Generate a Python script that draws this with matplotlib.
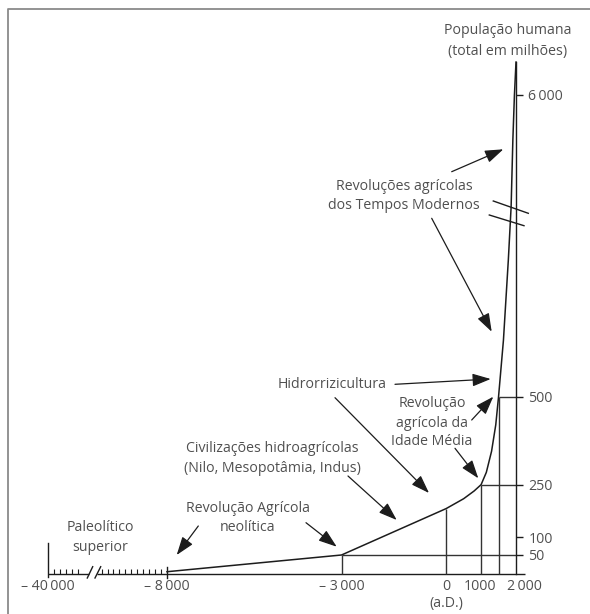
import numpy as np
import matplotlib
matplotlib.use("Agg")
import matplotlib.pyplot as plt
import matplotlib.transforms as mtransforms

# ---------------- data ----------------
years = [-8000, -3000, 0, 500, 800, 1000, 1150, 1300, 1420, 1500,
         1640, 1780, 1860, 1910, 1955, 2000]
population = [6, 50, 182, 210, 232, 250, 285, 345, 420, 500,
              1530, 2990, 3960, 5180, 6000, 6600]

guide_years = [-3000, 0, 1000, 1500]
guide_pops = [50, 182, 250, 500]
hguide_years = [-3000, 1000, 1500]
hguide_pops = [50, 250, 500]

x_tick_years = [-40000, -8000, -3000, 0, 1000, 2000]
x_tick_labels = ["– 40\u2009000", "– 8\u2009000", "– 3\u2009000", "0", "1000", "2\u2009000"]
y_ticks = [50, 100, 250, 500, 6000]
y_tick_labels = ["50", "100", "250", "500", "6\u2009000"]
minor_years = [-38400, -36800, -35200, -33600, -32000,
               -25600, -24000, -22400, -20800, -19200, -17600,
               -16000, -14400, -12800, -11200, -9600]

# ---------------- layout ----------------
W, H = 590, 614
FS = 10.2
TXT = "#505050"
LN = "#1c1c1c"
FAM = ["Open Sans", "DejaVu Sans"]

# piecewise scales (data -> pixel)
x_data_anchor = np.array([-52907.0, -40000.0, -8000.0, 2000.0, 4120.0])
x_px_anchor = np.array([0.0, 48.0, 167.0, 516.0, 590.0])
y_data_anchor = np.array([-105.3, 0.0, 50.0, 500.0, 6000.0, 7731.8])
y_px_anchor = np.array([0.0, 40.0, 59.0, 217.3, 519.0, 614.0])  # height from bottom


def xf(v):
    return np.interp(v, x_data_anchor, x_px_anchor)


def xi(p):
    return np.interp(p, x_px_anchor, x_data_anchor)


def yf(v):
    return np.interp(v, y_data_anchor, y_px_anchor)


def yi(p):
    return np.interp(p, y_px_anchor, y_data_anchor)


plt.rcParams["font.family"] = FAM
fig = plt.figure(figsize=(W / 100, H / 100), dpi=100)
ax = fig.add_axes([0, 0, 1, 1])
ax.set_xscale("function", functions=(xf, xi))
ax.set_yscale("function", functions=(yf, yi))
ax.set_xlim(x_data_anchor[0], x_data_anchor[-1])
ax.set_ylim(y_data_anchor[0], y_data_anchor[-1])
ax.patch.set_visible(False)

# pixel transform (x right, y down from top)
pxT = mtransforms.Affine2D().scale(1 / W, -1 / H).translate(0, 1) + fig.transFigure
xpx = mtransforms.blended_transform_factory(ax.transData, pxT)

# frame
fig.add_artist(plt.Line2D([8.3, 8.3, W], [H, 9.3, 9.3], transform=pxT,
                          color="#8a8a8a", lw=1.3))

# spines / axes
for s in ["left", "top"]:
    ax.spines[s].set_visible(False)
ax.spines["bottom"].set_position(("data", 0))
ax.spines["bottom"].set_color("none")
ax.spines["right"].set_position(("data", 2000))
ax.spines["right"].set_bounds(0, max(population))
ax.spines["right"].set_color(LN)
ax.spines["right"].set_linewidth(1.0)

ax.yaxis.tick_right()
ax.set_yticks(y_ticks, y_tick_labels)
ax.tick_params(axis="y", which="major", direction="out", length=5.2, width=1.0,
               color=LN, pad=3.6, labelsize=FS, labelcolor=TXT)
ax.set_xticks([])
ax.set_xticks(minor_years, minor=True)
ax.tick_params(axis="x", which="minor", direction="in", length=3.6, width=0.8,
               color=LN)

# baseline with break
brk1, brk2, xend = xi(89.0), xi(97.0), xi(524.6)
ax.plot([x_tick_years[0], brk1], [0, 0], color=LN, lw=1.0, solid_capstyle="butt")
ax.plot([brk2, xend], [0, 0], color=LN, lw=1.0, solid_capstyle="butt")
for x0, x1 in [(87.3, 92.7), (95.0, 100.7)]:
    ax.plot([x0, x1], [578, 566.7], transform=pxT, color=LN, lw=1.0)
# tall end ticks
ax.plot([x_tick_years[0]] * 2, [543, 577], transform=xpx, color=LN, lw=1.0)
ax.plot([x_tick_years[1]] * 2, [567, 578], transform=xpx, color=LN, lw=1.0)

# x tick labels
x_label_dx = [0, 0, 0, 0, -1.5, 8]
for yr, lab, dx in zip(x_tick_years, x_tick_labels, x_label_dx):
    off = mtransforms.ScaledTranslation(dx / 100, 0, fig.dpi_scale_trans)
    ax.text(yr, 586, lab, transform=xpx + off, ha="center", va="center",
            fontsize=FS, color=TXT)
ax.text(0, 604, "(a.D.)", transform=xpx, ha="center", va="center",
        fontsize=FS, color=TXT)

# guides
ax.vlines(guide_years, 0, guide_pops, color="#333333", lw=1.0)
ax.hlines(hguide_pops, hguide_years, 2000, color="#333333", lw=1.0)

# curve
ax.plot(years, population, color=LN, lw=1.1, solid_joinstyle="round")

# y-axis break
for (x0, y0, x1, y1) in [(493.3, 201, 528.3, 213.3), (489.3, 215, 524, 225.7)]:
    ax.plot([x0, x1], [y0, y1], transform=pxT, color=LN, lw=1.0)

# texts
labels = [
    ("População humana", 507.5, 31),
    ("(total em milhões)", 507.5, 52),
    ("Revoluções agrícolas", 404, 186.7),
    ("dos Tempos Modernos", 404, 205.7),
    ("Hidrorrizicultura", 332.5, 384),
    ("Revolução", 432, 403.3),
    ("agrícola da", 432.5, 423.3),
    ("Idade Média", 432, 441.7),
    ("Civilizações hidroagrícolas", 272.5, 449),
    ("(Nilo, Mesopotâmia, Indus)", 272.2, 468),
    ("Revolução Agrícola", 248.3, 508.3),
    ("neolítica", 248, 527.3),
    ("Paleolítico", 100, 527.7),
    ("superior", 100, 547.7),
]
for s, x, y in labels:
    ax.text(x, y, s, transform=pxT, ha="center", va="center", fontsize=FS, color=TXT)

# arrows
arrows = [
    ((451.7, 171.7), (503.3, 149.3)),
    ((431.7, 218.3), (491.7, 331.7)),
    ((395.0, 384.3), (490.7, 379.0)),
    ((335.0, 397.7), (429.0, 493.0)),
    ((471.7, 420.0), (493.3, 396.7)),
    ((455.0, 448.3), (478.3, 478.3)),
    ((348.0, 476.0), (396.7, 520.0)),
    ((198.3, 526.0), (176.7, 555.0)),
    ((306.0, 522.7), (336.7, 546.7)),
]
for start, tip in arrows:
    ax.annotate("", xy=tip, xytext=start, xycoords=pxT, textcoords=pxT,
                arrowprops=dict(arrowstyle="-|>,head_length=0.8,head_width=0.28",
                                mutation_scale=14, color=LN, lw=0.9,
                                shrinkA=0, shrinkB=0))

fig.savefig("out.png", dpi=100)
